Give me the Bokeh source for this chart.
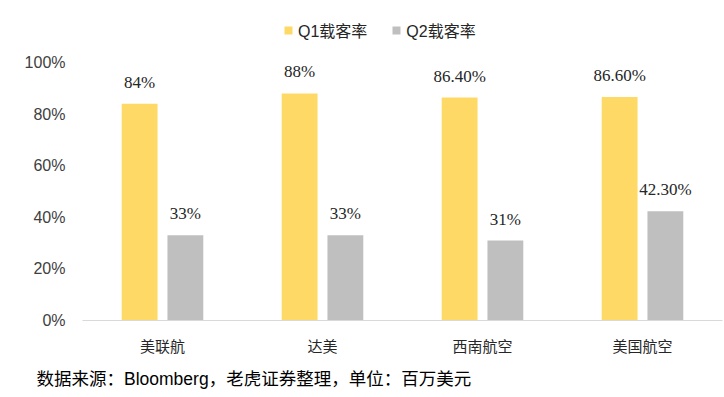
from bokeh.plotting import figure
from bokeh.models import ColumnDataSource, FactorRange, Range1d, Legend, LegendItem, Title, NumeralTickFormatter, LabelSet
from bokeh.transform import dodge
from bokeh.embed import file_html
from bokeh.resources import INLINE

categories = ["美联航", "达美", "西南航空", "美国航空"]
q1_values = [0.84, 0.88, 0.864, 0.866]
q2_values = [0.33, 0.33, 0.31, 0.423]
q1_labels = ["84%", "88%", "86.40%", "86.60%"]
q2_labels = ["33%", "33%", "31%", "42.30%"]
series_names = ["Q1载客率", "Q2载客率"]
source_note = "数据来源：Bloomberg，老虎证券整理，单位：百万美元"

FONT = "Liberation Sans, Noto Sans CJK SC"
Q1_COLOR = "#FFD966"
Q2_COLOR = "#BFBFBF"

src = ColumnDataSource(dict(cat=categories, q1=q1_values, q2=q2_values,
                            q1l=q1_labels, q2l=q2_labels))

# frame spans from the top of the canvas to the baseline (y=320); 100% sits at 62px
p = figure(x_range=FactorRange(*categories, range_padding=0), y_range=Range1d(0, 1.0 + 62 / 258),
           width=724, height=397, output_backend="svg", toolbar_location=None,
           min_border_left=82, min_border_right=2, min_border_top=0, min_border_bottom=77)
p.outline_line_color = None
p.background_fill_color = "white"
p.border_fill_color = "white"

r1 = p.vbar(x=dodge("cat", -0.143, range=p.x_range), top="q1", width=0.224,
            source=src, fill_color=Q1_COLOR, line_color=None)
r2 = p.vbar(x=dodge("cat", 0.143, range=p.x_range), top="q2", width=0.224,
            source=src, fill_color=Q2_COLOR, line_color=None)

for off, col, lab in [(-0.143, "q1", "q1l"), (0.143, "q2", "q2l")]:
    ls = LabelSet(x=dodge("cat", off, range=p.x_range), y=col, text=lab, source=src,
                  text_align="center", text_baseline="bottom", y_offset=12,
                  text_font="Liberation Sans", text_font_size="17px", text_color="#262626")
    p.add_layout(ls)

p.xgrid.grid_line_color = None
p.ygrid.grid_line_color = None

p.yaxis.ticker = [0, 0.2, 0.4, 0.6, 0.8, 1.0]
p.yaxis.formatter = NumeralTickFormatter(format="0%")
p.yaxis.axis_line_color = None
p.yaxis.major_tick_line_color = None
p.yaxis.minor_tick_line_color = None
p.yaxis.major_tick_out = 0
p.yaxis.minor_tick_out = 0
p.yaxis.major_label_standoff = 17
p.yaxis.major_label_text_font = FONT
p.yaxis.major_label_text_font_size = "16px"
p.yaxis.major_label_text_color = "#404040"

p.xaxis.axis_line_color = "#D9D9D9"
p.xaxis.axis_line_width = 1
p.xaxis.major_tick_line_color = None
p.xaxis.minor_tick_line_color = None
p.xaxis.major_tick_out = 0
p.xaxis.minor_tick_out = 0
p.xaxis.major_label_standoff = 17
p.xaxis.major_label_text_font = FONT
p.xaxis.major_label_text_font_size = "15px"
p.xaxis.major_label_text_color = "#262626"

legend = Legend(items=[LegendItem(label=series_names[0], renderers=[r1]),
                       LegendItem(label=series_names[1], renderers=[r2])],
                orientation="horizontal", location=(201, 278),
                padding=0, margin=0, spacing=24, label_standoff=5,
                glyph_width=10, glyph_height=10, label_height=16,
                label_text_font=FONT, label_text_font_size="16px",
                label_text_color="#262626",
                border_line_color=None, background_fill_alpha=0)
p.add_layout(legend)

note = Title(text=source_note, align="left", offset=-46, standoff=18,
             text_font=FONT, text_font_size="17.5px", text_font_style="normal",
             text_color="#000000")
p.add_layout(note, "below")

open("out.html", "w").write(file_html(p, INLINE))
